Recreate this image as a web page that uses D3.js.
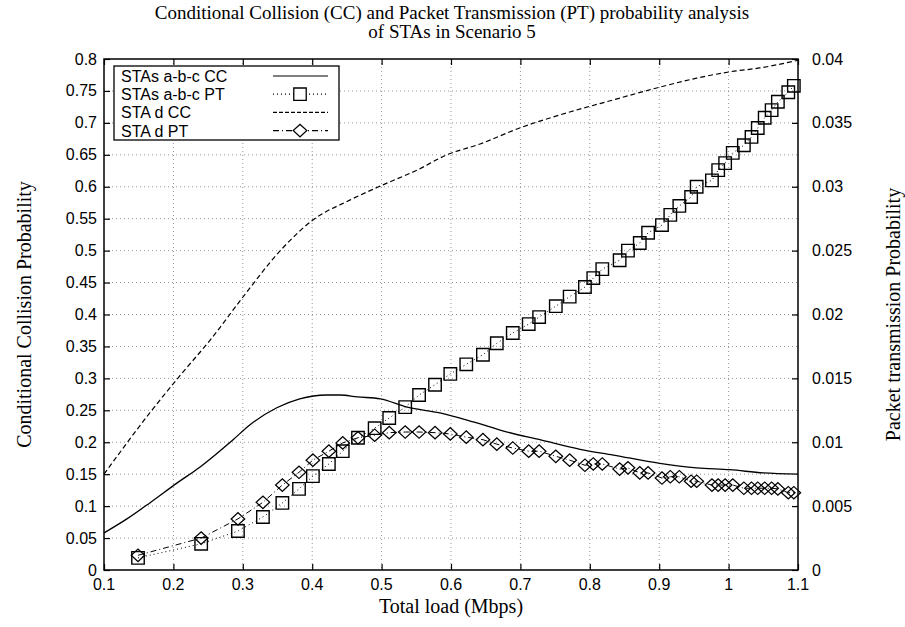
<!DOCTYPE html>
<html lang="en">
<head>
  <meta charset="UTF-8">
  <title>CC and PT probability - Scenario 5</title>
  <style>
  body { margin: 0; background: #fff; }
  svg { display: block; }
  .tick-label { font-family: "Liberation Sans", Arial, sans-serif; font-size: 16px; }
  .serif { font-family: "Liberation Serif", "Times New Roman", serif; }
  .legend text { font-family: "Liberation Sans", Arial, sans-serif; font-size: 16px; }
  </style>
</head>
<body>
  <svg></svg>
  <script src="https://d3js.org/d3.v7.min.js"></script>
  <script>
  // STAs a-b-c conditional collision (left axis)
  var ccLoadsABC = [0.1, 0.133, 0.166, 0.205, 0.238, 0.286, 0.31, 0.349, 0.382, 0.421, 0.44, 0.465, 0.498, 0.537, 0.584, 0.632, 0.681, 0.728, 0.786, 0.834, 0.901, 0.954, 1.002, 1.05, 1.1];
  var ccABC = [0.058, 0.08, 0.105, 0.136, 0.161, 0.204, 0.227, 0.254, 0.268, 0.274, 0.274, 0.271, 0.268, 0.255, 0.246, 0.232, 0.216, 0.204, 0.189, 0.18, 0.167, 0.16, 0.157, 0.152, 0.15];
  // STA d conditional collision (left axis)
  var ccLoadsD = [0.1, 0.166, 0.21, 0.253, 0.3, 0.354, 0.401, 0.454, 0.502, 0.551, 0.594, 0.642, 0.699, 0.771, 0.834, 0.901, 0.954, 1.002, 1.045, 1.1];
  var ccD = [0.15, 0.246, 0.305, 0.36, 0.427, 0.5, 0.548, 0.579, 0.603, 0.626, 0.65, 0.667, 0.692, 0.717, 0.736, 0.756, 0.77, 0.78, 0.786, 0.798];
  // packet transmission (right axis)
  var ptLoads = [0.149, 0.24, 0.293, 0.329, 0.357, 0.381, 0.401, 0.424, 0.444, 0.466, 0.49, 0.511, 0.534, 0.554, 0.577, 0.599, 0.622, 0.646, 0.666, 0.689, 0.712, 0.727, 0.751, 0.771, 0.793, 0.805, 0.818, 0.843, 0.855, 0.872, 0.884, 0.904, 0.916, 0.929, 0.946, 0.954, 0.976, 0.985, 0.995, 1.006, 1.022, 1.033, 1.042, 1.052, 1.062, 1.071, 1.086, 1.094];
  var ptABC = [0.00095, 0.00205, 0.00305, 0.00415, 0.00525, 0.00635, 0.00735, 0.0083, 0.0093, 0.01035, 0.0111, 0.0119, 0.01275, 0.0137, 0.0145, 0.01535, 0.0161, 0.01685, 0.01775, 0.01855, 0.01925, 0.0198, 0.02065, 0.0214, 0.02215, 0.02285, 0.02355, 0.02425, 0.025, 0.0256, 0.0264, 0.027, 0.0278, 0.0285, 0.0292, 0.03, 0.0305, 0.0313, 0.03185, 0.03265, 0.03325, 0.0339, 0.0346, 0.0354, 0.036, 0.03665, 0.0374, 0.0379];
  var ptD = [0.00115, 0.0025, 0.004, 0.0053, 0.00665, 0.00765, 0.0086, 0.0093, 0.00995, 0.01035, 0.01055, 0.01075, 0.0108, 0.0108, 0.01075, 0.01065, 0.0104, 0.0102, 0.00985, 0.00955, 0.0093, 0.0093, 0.0089, 0.0086, 0.0082, 0.0083, 0.0083, 0.0079, 0.008, 0.0076, 0.0076, 0.0072, 0.0073, 0.0073, 0.00695, 0.00695, 0.00665, 0.00665, 0.00665, 0.00665, 0.0064, 0.0064, 0.0064, 0.0064, 0.0064, 0.00635, 0.00605, 0.00605];

  var xTicks = [0.1, 0.2, 0.3, 0.4, 0.5, 0.6, 0.7, 0.8, 0.9, 1, 1.1];
  var leftTicks = [0, 0.05, 0.1, 0.15, 0.2, 0.25, 0.3, 0.35, 0.4, 0.45, 0.5, 0.55, 0.6, 0.65, 0.7, 0.75, 0.8];
  var rightTicks = [0, 0.005, 0.01, 0.015, 0.02, 0.025, 0.03, 0.035, 0.04];
  var legendNames = ["STAs a-b-c CC", "STAs a-b-c PT", "STA d CC", "STA d PT"];
  var titleLines = ["Conditional Collision (CC) and Packet Transmission (PT) probability analysis", "of STAs in Scenario 5"];

  var width = 905, height = 627;
  var plotL = 104, plotR = 798, plotT = 59, plotB = 570;

  var x = d3.scaleLinear().domain([0.1, 1.1]).range([plotL, plotR]);
  var yL = d3.scaleLinear().domain([0, 0.8]).range([plotB, plotT]);
  var yR = d3.scaleLinear().domain([0, 0.04]).range([plotB, plotT]);

  var svg = d3.select("svg").attr("width", width).attr("height", height);

  // grid
  var grid = svg.append("g").attr("stroke", "#777").attr("stroke-width", 0.8).attr("stroke-dasharray", "1,3");
  grid.selectAll("line.v").data(xTicks.slice(1, -1)).enter().append("line")
    .attr("x1", d => x(d)).attr("x2", d => x(d)).attr("y1", plotT).attr("y2", plotB);
  grid.selectAll("line.h").data(leftTicks.slice(1, -1)).enter().append("line")
    .attr("x1", plotL).attr("x2", plotR).attr("y1", d => yL(d)).attr("y2", d => yL(d));

  // axes, ticks inside
  function noLabels(g) { g.selectAll("text").remove(); g.select(".domain").remove(); }
  svg.append("g").attr("transform", "translate(0," + plotB + ")")
    .call(d3.axisTop(x).tickValues(xTicks).tickSize(6)).call(noLabels);
  svg.append("g").attr("transform", "translate(0," + plotT + ")")
    .call(d3.axisBottom(x).tickValues(xTicks).tickSize(6)).call(noLabels);
  svg.append("g").attr("transform", "translate(" + plotL + ",0)")
    .call(d3.axisRight(yL).tickValues(leftTicks).tickSize(6)).call(noLabels);
  svg.append("g").attr("transform", "translate(" + plotR + ",0)")
    .call(d3.axisLeft(yR).tickValues(rightTicks).tickSize(6)).call(noLabels);
  svg.selectAll(".tick line").attr("stroke", "#000").attr("stroke-width", 1.2);
  svg.append("rect").attr("x", plotL).attr("y", plotT).attr("width", plotR - plotL).attr("height", plotB - plotT)
    .attr("fill", "none").attr("stroke", "#000").attr("stroke-width", 1.5);

  // tick labels
  svg.selectAll("text.xl").data(xTicks).enter().append("text").attr("class", "tick-label")
    .attr("x", d => x(d)).attr("y", plotB + 20).attr("text-anchor", "middle").text(d => d);
  svg.selectAll("text.yl").data(leftTicks).enter().append("text").attr("class", "tick-label")
    .attr("x", plotL - 7).attr("y", d => yL(d) + 5.5).attr("text-anchor", "end").text(d => d);
  svg.selectAll("text.yr").data(rightTicks).enter().append("text").attr("class", "tick-label")
    .attr("x", plotR + 14).attr("y", d => yR(d) + 5.5).text(d => d);

  // titles
  svg.selectAll("text.title").data(titleLines).enter().append("text").attr("class", "serif")
    .attr("x", 452).attr("y", (d, i) => 19 + i * 19).attr("text-anchor", "middle")
    .attr("font-size", 19).text(d => d);
  svg.append("text").attr("class", "serif").attr("x", (plotL + plotR) / 2).attr("y", 613)
    .attr("text-anchor", "middle").attr("font-size", 20).text("Total load (Mbps)");
  svg.append("text").attr("class", "serif").attr("transform", "translate(31," + (plotT + plotB) / 2 + ") rotate(-90)")
    .attr("text-anchor", "middle").attr("font-size", 20).text("Conditional Collision Probability");
  svg.append("text").attr("class", "serif").attr("transform", "translate(900," + (plotT + plotB) / 2 + ") rotate(-90)")
    .attr("text-anchor", "middle").attr("font-size", 20).text("Packet transmission Probability");

  // series
  var plot = svg.append("g");
  var lineL = d3.line().x(d => x(d[0])).y(d => yL(d[1])).curve(d3.curveMonotoneX);
  var lineR = d3.line().x(d => x(d[0])).y(d => yR(d[1]));

  plot.append("path").datum(d3.zip(ccLoadsABC, ccABC)).attr("d", lineL)
    .attr("fill", "none").attr("stroke", "#000").attr("stroke-width", 1.3);
  plot.append("path").datum(d3.zip(ccLoadsD, ccD)).attr("d", lineL)
    .attr("fill", "none").attr("stroke", "#000").attr("stroke-width", 1.2).attr("stroke-dasharray", "5,3");
  plot.append("path").datum(d3.zip(ptLoads, ptABC)).attr("d", lineR)
    .attr("fill", "none").attr("stroke", "#000").attr("stroke-width", 1).attr("stroke-dasharray", "1,3");
  plot.append("path").datum(d3.zip(ptLoads, ptD)).attr("d", lineR)
    .attr("fill", "none").attr("stroke", "#000").attr("stroke-width", 1).attr("stroke-dasharray", "6,3,1,3");

  var sq = d3.symbol().type(d3.symbolSquare).size(155);
  var dm = d3.symbol().type(d3.symbolSquare).size(92);
  plot.selectAll("path.sq").data(d3.zip(ptLoads, ptABC)).enter().append("path")
    .attr("d", sq).attr("transform", d => "translate(" + x(d[0]) + "," + yR(d[1]) + ")")
    .attr("fill", "none").attr("stroke", "#000").attr("stroke-width", 1.4);
  plot.selectAll("path.dm").data(d3.zip(ptLoads, ptD)).enter().append("path")
    .attr("d", dm).attr("transform", d => "translate(" + x(d[0]) + "," + yR(d[1]) + ") scale(1,0.92) rotate(45)")
    .attr("fill", "none").attr("stroke", "#000").attr("stroke-width", 1.3);

  // legend
  var lg = svg.append("g").attr("class", "legend");
  lg.append("rect").attr("x", 114).attr("y", 66).attr("width", 225).attr("height", 74)
    .attr("fill", "#fff").attr("stroke", "#000").attr("stroke-width", 1.3);
  var dashes = [null, "1,3", "4,2", "6,3,1,3"];
  legendNames.forEach(function(name, i) {
    var cy = 76 + i * 18.2;
    lg.append("text").attr("x", 121).attr("y", cy + 6).text(name);
    lg.append("line").attr("x1", 273).attr("x2", 328).attr("y1", cy).attr("y2", cy)
      .attr("stroke", "#000").attr("stroke-width", 1.2).attr("stroke-dasharray", dashes[i]);
    if (i === 1) lg.append("path").attr("d", sq).attr("transform", "translate(300," + cy + ")")
      .attr("fill", "#fff").attr("stroke", "#000").attr("stroke-width", 1.3);
    if (i === 3) lg.append("path").attr("d", dm).attr("transform", "translate(300," + cy + ") scale(1,0.92) rotate(45)")
      .attr("fill", "#fff").attr("stroke", "#000").attr("stroke-width", 1.3);
  });
  </script>
</body>
</html>
